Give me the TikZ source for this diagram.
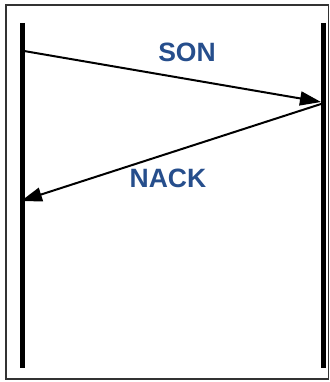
\documentclass[tikz,border=0pt]{standalone}
\usepackage{fontspec}
\setmainfont{Liberation Sans}
\usetikzlibrary{arrows.meta}

\definecolor{msgblue}{RGB}{38,78,140}

\begin{document}
\begin{tikzpicture}[x=1pt,y=-1pt,
    lifeline/.style={line width=5pt},
    msg/.style={line width=2pt,-{Triangle[length=21pt,width=14pt]}},
    msglabel/.style={text=msgblue,font=\bfseries\fontsize{26.5}{30}\selectfont}]
  \useasboundingbox (0,0) rectangle (329,382);
  \draw[line width=1.2pt,black!80] (6,5) rectangle (328.5,379);

  % the two lifelines
  \coordinate (aTop) at (22,23);
  \coordinate (aBot) at (22,368);
  \coordinate (bTop) at (323.5,23);
  \coordinate (bBot) at (323.5,368);
  \draw[lifeline] (aTop) -- (aBot);
  \draw[lifeline] (bTop) -- (bBot);

  % message ends
  \coordinate (sonFrom) at (24,51);
  \coordinate (sonTo) at (321,102);
  \coordinate (nackFrom) at (321,104);
  \coordinate (nackTo) at (21,201);

  \draw[msg] (sonFrom) -- (sonTo);
  \draw[msg] (nackFrom) -- (nackTo);

  \node[msglabel] (son) at (187,52) {SON};
  \node[msglabel] (nack) at (168,178) {NACK};
\end{tikzpicture}
\end{document}
